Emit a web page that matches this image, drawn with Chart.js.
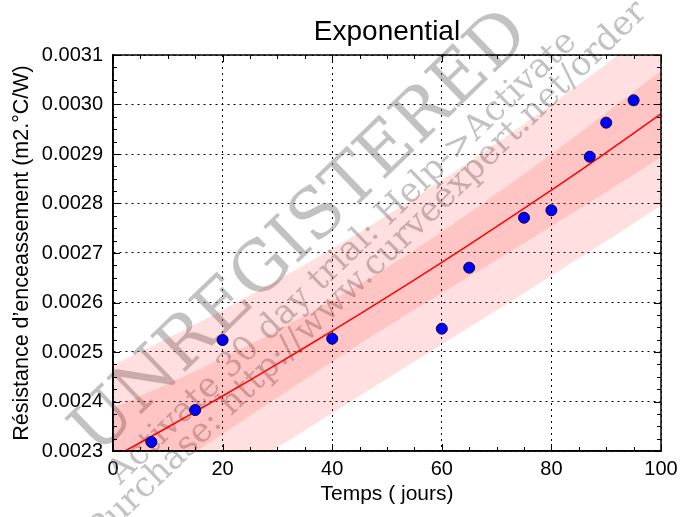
<!DOCTYPE html>
<html>
<head>
<meta charset="utf-8">
<script src="https://cdn.jsdelivr.net/npm/chart.js@4"></script>
<style>
  html, body { margin: 0; padding: 0; background: #fff; }
</style>
</head>
<body>
<canvas id="expChart" width="680" height="517"></canvas>
<script>
const tempsJours = [7, 15, 20, 40, 60, 65, 75, 80, 87, 90, 95];
const resistance = [0.0023182, 0.0023828, 0.0025242, 0.0025269, 0.0025471, 0.0026703,
                    0.0027713, 0.0027863, 0.0028945, 0.0029633, 0.0030085];

// Courbe ajustée + bandes de confiance / prédiction
const fitX = [0, 10, 20, 30, 40, 50, 60, 70, 80, 90, 100];
const fitY = [0.0022866, 0.0023480, 0.0024111, 0.0024760, 0.0025425, 0.0026108,
              0.0026810, 0.0027531, 0.0028271, 0.0029030, 0.0029811];
const confHaut = [0.0023866, 0.0024360, 0.0024881, 0.0025440, 0.0026045, 0.0026708,
                  0.0027430, 0.0028201, 0.0029001, 0.0029830, 0.0030681];
const confBas = [0.0021866, 0.0022600, 0.0023341, 0.0024080, 0.0024805, 0.0025508,
                 0.0026190, 0.0026861, 0.0027541, 0.0028230, 0.0028941];
const predHaut = [0.0024736, 0.0025280, 0.0025851, 0.0026450, 0.0027085, 0.0027758,
                  0.0028470, 0.0029221, 0.0030001, 0.0030820, 0.0031661];
const predBas = [0.0020996, 0.0021680, 0.0022371, 0.0023070, 0.0023765, 0.0024458,
                 0.0025150, 0.0025841, 0.0026541, 0.0027240, 0.0027961];

const xTicks = [0, 20, 40, 60, 80, 100];

function points(xs, ys) {
    return xs.map((x, i) => ({x: x, y: ys[i]}));
}

// Titre centré sur la zone du graphique
const titrePlugin = {
    id: 'titre',
    afterDraw(chart) {
        const ctx = chart.ctx;
        const a = chart.chartArea;
        ctx.save();
        ctx.fillStyle = '#000';
        ctx.font = '28px "Liberation Sans", Arial, sans-serif';
        ctx.textAlign = 'center';
        ctx.textBaseline = 'alphabetic';
        ctx.fillText('Exponential', (a.left + a.right) / 2, 40);
        ctx.restore();
    }
};

// Filigrane de la version d'essai
const filigranePlugin = {
    id: 'filigrane',
    beforeDatasetsDraw(chart) {
        const ctx = chart.ctx;
        function texte(t, cx, cy, taille) {
            ctx.save();
            ctx.translate(cx, cy);
            ctx.rotate(-44 * Math.PI / 180);
            ctx.font = taille + 'px "DejaVu Serif", "Liberation Serif", serif';
            ctx.textAlign = 'center';
            ctx.textBaseline = 'middle';
            ctx.fillStyle = 'rgba(110, 110, 110, 0.42)';
            ctx.fillText(t, 0, 0);
            ctx.restore();
        }
        texte('UNREGISTERED', 302, 234, 69);
        texte('Activate 30 day trial: Help->Activate', 343, 258, 34);
        texte('Purchase: http://www.curveexpert.net/order', 368, 272, 34);
    }
};

// Cadre + graduations intérieures (majeures et mineures) sur les 4 côtés
const cadrePlugin = {
    id: 'cadre',
    afterDatasetsDraw(chart) {
        const ctx = chart.ctx;
        const a = chart.chartArea;
        const sx = chart.scales.x, sy = chart.scales.y;
        ctx.save();
        ctx.strokeStyle = '#000';
        ctx.lineWidth = 1;
        ctx.beginPath();
        for (let v = 0; v <= 100; v += 5) {
            const px = Math.round(sx.getPixelForValue(v)) + 0.5;
            const len = v % 20 === 0 ? 7 : 4;
            ctx.moveTo(px, a.bottom); ctx.lineTo(px, a.bottom - len);
            ctx.moveTo(px, a.top); ctx.lineTo(px, a.top + len);
        }
        for (let k = 0; k <= 32; k++) {
            const py = Math.round(sy.getPixelForValue(0.0023 + k * 0.000025)) + 0.5;
            const len = k % 4 === 0 ? 7 : 4;
            ctx.moveTo(a.left, py); ctx.lineTo(a.left + len, py);
            ctx.moveTo(a.right, py); ctx.lineTo(a.right - len, py);
        }
        ctx.stroke();
        ctx.lineWidth = 1.5;
        ctx.strokeRect(a.left, a.top, a.right - a.left, a.bottom - a.top);
        ctx.restore();
    }
};

const ctx = document.getElementById('expChart').getContext('2d');
const chart = new Chart(ctx, {
    type: 'scatter',
    data: {
        datasets: [
            {
                label: 'Mesures',
                data: points(tempsJours, resistance),
                backgroundColor: '#0000ff',
                borderColor: '#00003c',
                borderWidth: 1,
                pointRadius: 5.5
            },
            {
                label: 'Exponential',
                data: points(fitX, fitY),
                showLine: true,
                borderColor: '#ff0000',
                borderWidth: 1.5,
                pointRadius: 0,
                tension: 0.4,
                fill: false
            },
            {
                label: 'Confiance +',
                data: points(fitX, confHaut),
                showLine: true,
                borderWidth: 0,
                borderColor: 'rgba(255,0,0,0)',
                pointRadius: 0,
                tension: 0.4,
                fill: '+1',
                backgroundColor: 'rgba(255, 0, 0, 0.12)'
            },
            {
                label: 'Confiance -',
                data: points(fitX, confBas),
                showLine: true,
                borderWidth: 0,
                borderColor: 'rgba(255,0,0,0)',
                pointRadius: 0,
                tension: 0.4,
                fill: false
            },
            {
                label: 'Prédiction +',
                data: points(fitX, predHaut),
                showLine: true,
                borderWidth: 0,
                borderColor: 'rgba(255,0,0,0)',
                pointRadius: 0,
                tension: 0.4,
                fill: '+1',
                backgroundColor: 'rgba(255, 0, 0, 0.125)'
            },
            {
                label: 'Prédiction -',
                data: points(fitX, predBas),
                showLine: true,
                borderWidth: 0,
                borderColor: 'rgba(255,0,0,0)',
                pointRadius: 0,
                tension: 0.4,
                fill: false
            }
        ]
    },
    options: {
        responsive: false,
        animation: false,
        layout: {
            padding: {top: 55, right: 19, bottom: 0, left: 0}
        },
        plugins: {
            legend: {display: false},
            tooltip: {enabled: false},
            title: {display: false}
        },
        scales: {
            x: {
                type: 'linear',
                min: 0,
                max: 100,
                afterBuildTicks: function(scale) {
                    scale.ticks = xTicks.map(v => ({value: v}));
                },
                afterFit: function(scale) {
                    scale.height = 66;
                    scale.paddingLeft = 0;
                    scale.paddingRight = 0;
                },
                ticks: {
                    color: '#000',
                    padding: 6,
                    maxRotation: 0,
                    font: {family: '"Liberation Sans", Arial, sans-serif', size: 20}
                },
                grid: {
                    color: '#000',
                    lineWidth: 1,
                    drawTicks: false
                },
                border: {display: true, color: '#000', width: 1.5, dash: [2, 4]},
                title: {
                    display: true,
                    text: 'Temps ( jours)',
                    color: '#000',
                    padding: {top: 0, bottom: 10},
                    font: {family: '"Liberation Sans", Arial, sans-serif', size: 21}
                }
            },
            y: {
                type: 'linear',
                min: 0.0023,
                max: 0.0031,
                afterBuildTicks: function(scale) {
                    const t = [];
                    for (let k = 0; k <= 8; k++) t.push({value: 0.0023 + k * 0.0001});
                    scale.ticks = t;
                },
                afterFit: function(scale) {
                    scale.width = 113;
                },
                ticks: {
                    color: '#000',
                    padding: 10,
                    callback: v => v.toFixed(4),
                    font: {family: '"Liberation Sans", Arial, sans-serif', size: 20}
                },
                grid: {
                    color: '#000',
                    lineWidth: 1,
                    drawTicks: false
                },
                border: {display: true, color: '#000', width: 1.5, dash: [2, 4]},
                title: {
                    display: true,
                    text: 'Résistance d\u2019enceassement (m2.°C/W)',
                    color: '#000',
                    padding: {top: 9, bottom: 0},
                    font: {family: '"Liberation Sans", Arial, sans-serif', size: 21.5}
                }
            }
        }
    },
    plugins: [filigranePlugin, cadrePlugin, titrePlugin]
});
</script>
</body>
</html>
